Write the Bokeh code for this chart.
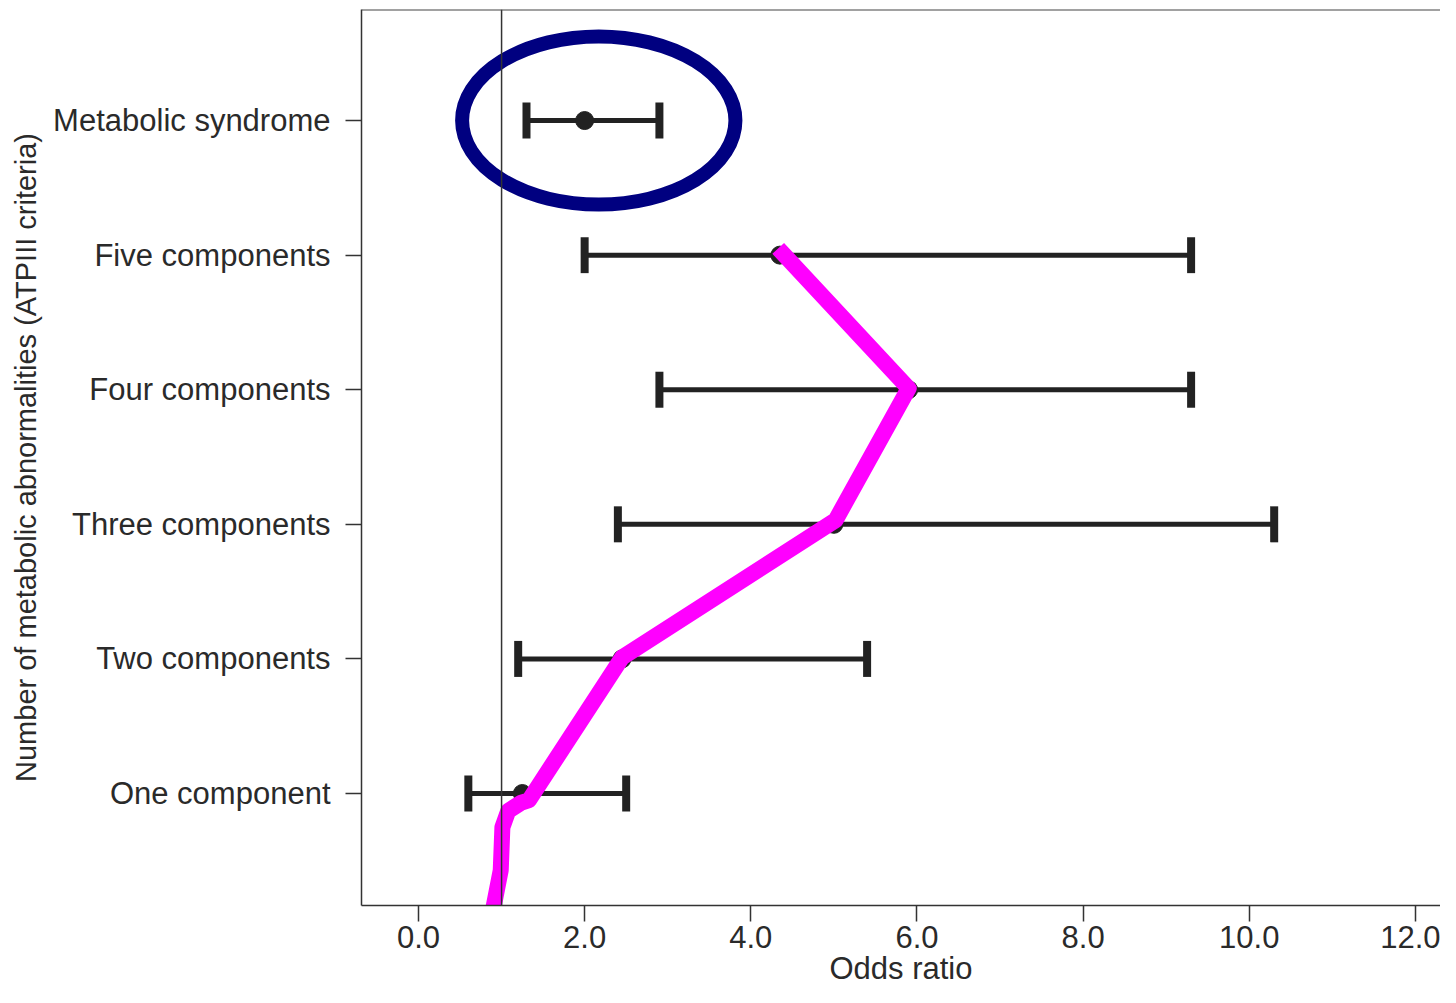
from bokeh.plotting import figure
from bokeh.models import (ColumnDataSource, FixedTicker, Span, Whisker, TeeHead,
                          NumeralTickFormatter, Range1d)
from bokeh.embed import file_html
from bokeh.resources import INLINE

# ---- data ----
categories = ["One component", "Two components", "Three components",
              "Four components", "Five components", "Metabolic syndrome"]
positions = [1, 2, 3, 4, 5, 6]
odds_ratio = [1.25, 2.45, 5.0, 5.9, 4.35, 2.0]
ci_lower = [0.6, 1.2, 2.4, 2.9, 2.0, 1.3]
ci_upper = [2.5, 5.4, 10.3, 9.3, 9.3, 2.9]
x_ticks = [0, 2, 4, 6, 8, 10, 12]
reference_or = 1.0

# hand-drawn annotations (data coordinates)
trend_x = [0.87, 0.99, 1.01, 1.08, 1.23, 1.33, 2.45, 5.02, 5.90, 4.33]
trend_y = [0.05, 0.43, 0.75, 0.87, 0.93, 0.95, 2.01, 3.03, 4.01, 5.05]
highlight_x = [2.17]
highlight_y = [6.0]
highlight_w = [3.29]
highlight_h = [1.25]

FONT = "Liberation Sans"
TXT = "#2a2a2a"
Y_TOP = 6.825

src = ColumnDataSource(dict(y=positions, x=odds_ratio, lo=ci_lower, hi=ci_upper))

p = figure(width=1440, height=995, output_backend="svg", toolbar_location=None,
           x_range=Range1d(-0.686, 12.302), y_range=Range1d(0.168, Y_TOP),
           min_border_left=361, min_border_right=0, min_border_top=9,
           min_border_bottom=90)
p.outline_line_color = None
p.xgrid.visible = False
p.ygrid.visible = False
p.background_fill_color = "white"

# reference line at OR = 1
p.add_layout(Span(location=reference_or, dimension="height",
                  line_color="#333333", line_width=1.5))
# top frame edge
p.add_layout(Span(location=Y_TOP, dimension="width",
                  line_color="#444444", line_width=2))

# error bars
p.add_layout(Whisker(source=src, base="y", lower="lo", upper="hi", dimension="width",
                     line_color="#222222", line_width=5,
                     lower_head=TeeHead(size=36, line_color="#222222", line_width=8),
                     upper_head=TeeHead(size=36, line_color="#222222", line_width=8)))
p.scatter("x", "y", source=src, size=18, color="#222222")

# annotations
p.ellipse(x=highlight_x, y=highlight_y, width=highlight_w, height=highlight_h,
          fill_color=None, line_color="#000080", line_width=14)
p.line(trend_x, trend_y, line_color="#ff00ff", line_width=16,
       line_join="round", line_cap="butt")

# axes
p.xaxis.ticker = FixedTicker(ticks=x_ticks)
p.xaxis.formatter = NumeralTickFormatter(format="0.0")
p.xaxis.minor_tick_line_color = None
p.xaxis.major_tick_in = 0
p.xaxis.major_tick_out = 16
p.xaxis.axis_label = "Odds ratio"

p.yaxis.ticker = FixedTicker(ticks=positions)
p.yaxis.major_label_overrides = {pos: c for pos, c in zip(positions, categories)}
p.yaxis.minor_tick_line_color = None
p.yaxis.major_tick_in = 0
p.yaxis.major_tick_out = 16
p.yaxis.axis_label = "Number of metabolic abnormalities (ATPIII criteria)"

for ax in (p.xaxis, p.yaxis):
    ax.axis_line_color = "#333333"
    ax.axis_line_width = 1.5
    ax.major_tick_line_color = "#333333"
    ax.major_tick_line_width = 1.5
    ax.major_label_text_font = FONT
    ax.major_label_text_font_size = "31px"
    ax.major_label_text_color = TXT
    ax.axis_label_text_font = FONT
    ax.axis_label_text_font_size = "29px"
    ax.axis_label_text_font_style = "normal"
    ax.axis_label_text_color = TXT

p.xaxis.axis_label_text_font_size = "31px"
p.xaxis.major_label_standoff = 4
p.xaxis.axis_label_standoff = 0
p.yaxis.major_label_standoff = 15
p.yaxis.axis_label_standoff = 8

open("out.html", "w").write(file_html(p, INLINE))
